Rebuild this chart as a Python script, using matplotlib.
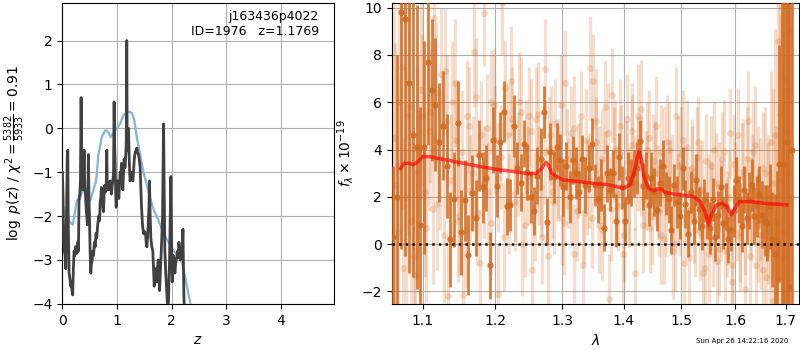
import numpy as np
import matplotlib
matplotlib.use("Agg")
import matplotlib.pyplot as plt
from matplotlib.ticker import NullLocator

# ---------------- left panel data: log p(z) ----------------
pz_z = [0.000, 0.012, 0.025, 0.037, 0.050, 0.061, 0.075, 0.090, 0.098, 0.108,
        0.122, 0.135, 0.153, 0.165, 0.175, 0.189, 0.200, 0.214, 0.225, 0.240,
        0.250, 0.265, 0.280, 0.293, 0.305, 0.318, 0.330, 0.342, 0.352, 0.360,
        0.372, 0.385, 0.397, 0.410, 0.421, 0.438, 0.458, 0.470, 0.476, 0.486,
        0.495, 0.505, 0.519, 0.530, 0.545, 0.556, 0.570, 0.586, 0.600, 0.615,
        0.629, 0.645, 0.665, 0.680, 0.690, 0.702, 0.712, 0.720, 0.735, 0.751,
        0.763, 0.775, 0.788, 0.800, 0.812, 0.820, 0.830, 0.845, 0.860, 0.873,
        0.885, 0.897, 0.910, 0.922, 0.935, 0.946, 0.955, 0.965, 0.975, 0.983,
        0.995, 1.007, 1.020, 1.032, 1.045, 1.056, 1.068, 1.081, 1.095, 1.105,
        1.118, 1.129, 1.145, 1.160, 1.168, 1.177, 1.185, 1.192, 1.200, 1.209,
        1.220, 1.230, 1.239, 1.250, 1.258, 1.270, 1.288, 1.300, 1.315, 1.331,
        1.345, 1.361, 1.375, 1.392, 1.405, 1.422, 1.435, 1.447, 1.465, 1.484,
        1.500, 1.520, 1.532, 1.545, 1.557, 1.569, 1.583, 1.593, 1.605, 1.618,
        1.635, 1.654, 1.667, 1.679, 1.690, 1.703, 1.715, 1.728, 1.740, 1.752,
        1.765, 1.777, 1.790, 1.801, 1.815, 1.832, 1.850, 1.862, 1.874, 1.890,
        1.911, 1.925, 1.935, 1.948, 1.960, 1.972, 1.984, 1.996, 2.009, 2.020,
        2.033, 2.045, 2.057, 2.070, 2.082, 2.094, 2.106, 2.118, 2.131, 2.143,
        2.155, 2.167, 2.179, 2.192, 2.204, 2.213, 2.222, 2.241, 2.300, 2.600,
        3.000, 3.500, 4.000, 4.500, 4.960]
pz_logp = [-1.0, -1.6, -2.6, -2.8, -2.9, -3.2, -2.0, -0.6, -0.5, -2.2,
           -3.3, -3.4, -3.6, -3.5, -3.7, -3.8, -3.2, -2.8, -2.9, -2.7,
           -2.75, -2.85, -2.6, -2.8, -1.6, -1.5, -1.2, 0.7, -0.9, -0.6,
           -1.4, -1.2, -0.5, -1.4, -1.5, -1.9, -2.2, -1.2, -0.6, -1.6,
           -2.0, -2.7, -3.3, -3.1, -3.0, -2.8, -2.9, -2.6, -2.7, -2.4,
           -2.5, -2.2, -2.0, -2.1, -1.7, -1.6, -1.35, -1.5, -1.7, -1.9,
           -1.5, -1.3, -1.45, -1.4, -0.5, -1.3, -1.4, -1.25, -1.4, -1.2,
           -1.35, -1.5, -1.3, -1.2, -1.0, 0.6, -0.4, -0.8, -1.5, -1.8,
           -1.6, -1.2, -1.4, -1.6, -1.3, -1.0, -1.1, -0.8, -1.2, -1.4,
           -1.0, -0.7, -0.9, -0.6, -0.3, 2.0, -0.5, -0.3, -0.1, 0.0,
           -0.6, -1.0, -1.2, -1.1, -1.0, -1.1, -1.2, -1.0, -0.7, -0.55,
           -0.5, -0.45, -0.55, -0.6, -0.7, -0.9, -1.4, -1.8, -2.2, -2.4,
           -2.35, -2.4, -2.6, -2.7, -2.5, -2.2, -1.8, -1.2, -2.0, -2.5,
           -2.7, -2.8, -3.2, -3.6, -3.4, -3.2, -3.35, -3.5, -3.2, -3.0,
           -3.3, -3.7, -3.3, -3.0, -2.6, -2.0, 0.1, -1.5, -2.8, -3.3,
           -3.8, -4.1, -4.3, -3.5, -3.0, -2.0, -1.1, -2.5, -3.5, -3.2,
           -2.9, -3.1, -3.3, -3.1, -3.0, -2.9, -2.8, -2.95, -2.6, -2.8,
           -3.0, -2.8, -2.7, -2.9, -2.3, -3.0, -3.8, -4.6, -6.0, -9.0,
           -12.0, -16.0, -20.0, -24.0, -28.0]

prior_z = [0.0, 0.049, 0.110, 0.189, 0.232, 0.263, 0.324, 0.372, 0.421, 0.458, 0.507,
           0.568, 0.617, 0.659, 0.720, 0.781, 0.812, 0.842, 0.885, 0.934, 0.995,
           1.056, 1.117, 1.209, 1.270, 1.313, 1.361, 1.422, 1.484, 1.545, 1.606,
           1.667, 1.758, 1.850, 1.941, 2.033, 2.125, 2.186, 2.247, 2.308, 2.357,
           2.45, 2.6, 3.0, 4.0, 4.96]
prior_logp = [-1.7, -2.0, -2.1, -2.2, -1.9, -1.65, -1.6, -1.4, -1.35, -1.5, -1.65,
              -1.4, -1.2, -0.6, -0.2, -0.05, -0.05, -0.1, -0.2, -0.1, 0.0,
              0.1, 0.3, 0.38, 0.35, 0.2, -0.2, -0.6, -1.0, -1.3, -1.6,
              -1.85, -2.1, -2.4, -2.6, -2.8, -2.9, -3.05, -3.4, -3.8, -4.1,
              -5.0, -7.0, -12.0, -25.0, -40.0]

# ---------------- right panel data: spectrum ----------------
dark_wave_start, dark_wave_end, n_dark = 1.062, 1.712, 131
light_wave_start, light_wave_end, n_light = 1.0645, 1.7095, 130
light2_wave_start, light2_wave_end, n_light2 = 1.0633, 1.7083, 130

dark_flux = [0.3, 2.0, 9.8, 9.5, 6.8, 4.6, 4.1, 0.8, 4.1, 7.7,
             6.5, 5.9, 4.3, 5.0, 3.3, 0.2, 1.9, 5.1, 0.5, 1.85,
             -0.45, 2.15, 1.1, 3.75, 2.4, 2.8, -0.9, 4.4, 2.45, 4.3,
             5.6, 1.6, 1.65, 5.0, 3.2, 2.6, 4.25, 3.05, 2.0, 1.4,
             2.9, 3.6, 5.6, 0.95, 3.9, 2.85, 4.1, 3.55, 2.4, 3.3,
             2.0, 3.55, 3.0, 2.2, 3.6, 2.5, 3.2, 4.25, 2.5, 1.9,
             2.5, 0.7, 3.0, 2.3, 3.0, 1.0, 3.7, 2.4, 1.0, 2.8,
             2.6, 3.0, 3.2, 4.35, 2.45, 2.9, 1.65, 2.8, 2.2, 1.45,
             2.6, 3.3, 2.15, 1.9, 0.6, 2.5, 1.8, 1.2, 3.2, 1.7,
             0.45, 2.2, 1.0, 2.7, 1.5, 0.75, 1.85, 1.2, 0.7, 1.9,
             0.3, 1.25, 2.4, 0.9, 1.6, 0.2, 0.6, 1.4, 2.7, 1.9,
             0.75, 2.3, 1.1, 1.85, 2.5, 1.2, 1.6, 2.1, 1.25, 1.0,
             0.9, 1.6, 0.2, -0.4, 0.1, 3.4, 3.4, 3.4, 4.3, -1.8,
             4.0]
dark_err = [3.0, 6.0, 10.0, 10.0, 8.0, 6.0, 6.0, 5.0,
            4.5, 3.5, 3.0, 2.8, 2.5, 2.3, 2.2,
            2.0, 2.0, 1.8, 1.8, 1.7, 1.7, 1.6, 1.6, 1.5, 1.5, 1.4, 1.4, 1.4, 1.3, 1.3, 1.3,
            1.2, 1.1, 1.3, 1.1, 1.2, 1.0, 1.2, 1.1, 1.0, 1.2, 1.3, 1.1, 1.0, 1.2, 1.1, 1.0, 1.1, 1.2, 1.0, 1.1,
            1.0, 1.1, 0.9, 1.0, 1.2, 1.0, 1.1, 0.9, 1.0, 1.1, 1.0, 1.2, 0.9, 1.0, 1.1, 1.0, 0.9, 1.0, 1.1, 1.0,
            1.0, 1.1, 0.9, 1.0, 1.0, 0.9, 1.1, 1.0, 0.9, 1.0, 1.1, 0.9, 1.0, 1.0, 0.9, 1.1, 1.0, 0.9, 1.0, 1.0,
            0.9, 1.0, 1.1, 0.9, 1.0, 0.9, 1.0, 1.1, 0.9, 1.0, 1.0, 0.9, 1.1, 1.0, 1.0, 0.9, 1.1, 1.0, 1.0, 1.1,
            1.0, 1.1, 1.2, 1.1, 1.2, 1.3, 1.2, 1.4, 1.5, 1.6, 1.8, 2.0,
            2.5, 3.0, 5.0, 7.0, 9.0, 10.0, 12.0, 12.0]

light_flux = [2.5, 6.0, -1.0, 5.4, 1.0, -1.3, 4.0, 5.4, 0.7, 5.6,
              9.55, 1.7, 7.2, 7.3, -2.2, 6.0, 4.4, 1.2, -2.15, 5.4,
              2.3, 8.1, 1.3, 4.6, 9.75, 2.2, 6.0, 4.4, -2.1, 10.2,
              6.6, 1.7, 5.3, 2.1, 6.0, 0.0, 4.1, 5.4, -1.1, 5.3,
              2.9, 0.3, 7.4, 4.0, 2.2, 5.1, 3.2, 1.1, 6.8, 2.6,
              4.7, -0.4, 3.1, 5.4, 1.3, 2.4, 7.45, 6.9, 4.3, 0.8,
              3.6, 5.8, -2.3, 6.3, 4.0, 1.6, 3.9, 0.4, 5.3, 2.0,
              4.8, -1.2, 3.4, 5.7, 1.9, 4.0, 0.7, 3.5, 5.0, 1.4,
              3.9, 0.2, 4.3, 2.5, -0.3, 5.4, 1.9, 3.8, -0.8, 4.1,
              1.4, 3.2, 0.6, 4.3, 2.2, -1.2, 3.5, -0.4, 1.6, 4.0,
              -0.7, 2.4, 3.6, -0.3, 1.1, 4.7, -1.6, 2.2, 4.6, 0.5,
              3.1, -1.9, 5.2, 1.5, 3.9, -0.9, 2.8, 0.4, 3.2, -1.4,
              2.0, 4.3, -2.4, 1.0, 8.6, 2.7, -0.6, 4.8, 6.5, 2.0]
light_err = [6.0, 6.0, 5.5, 5.0, 5.0, 4.5, 4.0, 3.5,
             3.2, 3.0, 3.0, 2.8, 2.8, 2.7, 2.6, 2.6, 2.5, 2.5, 2.4, 2.4, 2.3,
             2.3, 2.2, 2.3, 2.2, 2.1, 2.2, 2.3, 2.1, 2.2, 2.0, 2.1, 2.2, 2.0, 2.1, 2.2, 2.0, 2.1, 2.0, 2.2, 2.1,
             2.0, 2.1, 2.2, 2.0, 1.9, 2.1, 2.0, 2.2, 1.9, 2.0, 2.1, 2.0, 1.9, 2.1, 2.0, 2.2, 2.0, 1.9, 2.0, 2.1,
             2.0, 1.9, 2.0, 2.1, 1.9, 2.0, 2.0, 1.9, 2.1, 2.0, 1.9, 2.0, 2.1, 1.9, 2.0, 1.9, 2.0, 2.1, 1.9, 2.0,
             1.9, 2.0, 1.9, 2.0, 2.1, 1.9, 2.0, 1.9, 2.0, 1.9, 2.1, 2.0, 1.9, 2.0, 1.9, 2.0, 2.1, 1.9, 2.0, 2.0,
             1.9, 2.0, 2.1, 2.0, 1.9, 2.0, 2.1, 2.0, 2.1, 2.2, 2.0, 2.1, 2.2, 2.1, 2.3, 2.2, 2.3, 2.4, 2.5, 2.6,
             3.0, 3.5, 4.0, 5.0, 7.0, 8.0, 9.0, 10.0, 10.0]

light2_flux = [4.5, 0.5, 7.5, 2.0, 5.8, -0.5, 3.0, 6.5, 2.2, 4.8,
               1.5, 6.4, 3.6, 0.4, 5.2, 2.7, 6.8, 1.0, 3.9, 0.6,
               5.0, 3.0, 6.2, -0.8, 2.6, 4.9, 0.9, 5.9, 2.8, 3.7,
               0.3, 4.6, 6.9, 1.8, 3.4, 5.6, 0.8, 2.9, 4.8, 1.6,
               5.5, 2.4, 3.9, -0.5, 4.6, 1.8, 3.0, 5.9, 0.9, 3.6,
               2.0, 4.9, 1.4, 3.3, -0.9, 4.4, 2.7, 1.1, 5.2, 3.0,
               0.6, 2.8, 4.7, 1.5, 3.8, 2.1, 5.0, -0.4, 3.1, 1.9,
               4.2, 2.6, 5.4, 3.3, 0.8, 2.7, 4.5, 1.2, 3.0, 2.2,
               0.4, 3.8, 1.6, 4.0, 2.4, 0.0, 3.3, 1.5, 4.4, 2.1,
               -0.6, 2.9, 1.2, 3.7, 0.5, 2.3, -1.0, 1.8, 3.3, 0.2,
               2.6, -0.2, 1.4, 3.9, 0.7, 2.0, -0.9, 3.4, 1.5, 0.3,
               2.9, 1.0, 3.6, -0.5, 2.3, 4.2, 0.8, 1.9, -1.1, 3.0,
               1.3, -0.2, 2.6, 4.6, -1.5, 5.5, 0.5, 7.0, 3.0, 9.0]
light2_err = [7.0, 6.5, 6.0, 5.5, 5.0, 4.8, 4.5, 4.0,
              3.6, 3.4, 3.2, 3.0, 3.0, 2.9, 2.8, 2.8, 2.7, 2.6, 2.6, 2.5, 2.5,
              2.4, 2.5, 2.3, 2.4, 2.3, 2.2, 2.4, 2.3, 2.2, 2.3, 2.2, 2.3, 2.1, 2.2, 2.3, 2.2, 2.1, 2.2, 2.3, 2.2,
              2.1, 2.2, 2.3, 2.1, 2.2, 2.0, 2.1, 2.2, 2.1, 2.0, 2.2, 2.1, 2.0, 2.1, 2.2, 2.0, 2.1, 2.2, 2.0, 2.1,
              2.0, 2.1, 2.2, 2.0, 2.1, 2.0, 2.2, 2.1, 2.0, 2.1, 2.0, 2.2, 2.1, 2.0, 2.1, 2.0, 2.1, 2.2, 2.0, 2.1,
              2.0, 2.1, 2.0, 2.2, 2.0, 2.1, 2.0, 2.1, 2.0, 2.2, 2.1, 2.0, 2.1, 2.0, 2.1, 2.2, 2.0, 2.1, 2.0, 2.1,
              2.0, 2.1, 2.2, 2.1, 2.0, 2.2, 2.1, 2.2, 2.3, 2.2, 2.3, 2.2, 2.4, 2.3, 2.5, 2.4, 2.6, 2.7, 2.8, 3.0,
              3.4, 4.0, 4.5, 5.5, 7.0, 8.5, 9.5, 10.0, 11.0]

model_wave = [1.071, 1.076, 1.082, 1.088, 1.094, 1.100, 1.110, 1.119, 1.132, 1.155,
              1.178, 1.202, 1.226, 1.251, 1.261, 1.269, 1.275, 1.279, 1.284, 1.292,
              1.302, 1.328, 1.355, 1.371, 1.388, 1.399, 1.410, 1.417, 1.423, 1.426,
              1.430, 1.434, 1.442, 1.451, 1.459, 1.465, 1.471, 1.498, 1.522, 1.534,
              1.543, 1.5495, 1.556, 1.565, 1.575, 1.584, 1.592, 1.600, 1.608, 1.629,
              1.655, 1.702]
model_flux = [3.2, 3.42, 3.42, 3.35, 3.49, 3.7, 3.7, 3.63, 3.56, 3.42,
              3.28, 3.16, 3.07, 2.97, 3.0, 3.2, 3.46, 3.35, 3.0, 2.86,
              2.71, 2.64, 2.55, 2.53, 2.43, 2.36, 2.5, 3.0, 3.7, 3.91,
              3.56, 2.86, 2.36, 2.26, 2.36, 2.32, 2.18, 2.08, 2.01, 1.8,
              1.38, 0.82, 1.31, 1.66, 1.73, 1.59, 1.24, 1.52, 1.8, 1.8,
              1.73, 1.66]

target_name = "j163436p4022"
target_id = 1976
target_z = 1.1769
chi2_num, chi2_den, chi2_red = 5382, 5933, 0.91
timestamp = "Sun Apr 26 14:22:16 2020"

z_ticks = [0, 1, 2, 3, 4]
wave_ticks = [1.1, 1.2, 1.3, 1.4, 1.5, 1.6, 1.7]

# ---------------- figure ----------------
fig = plt.figure(figsize=(8, 3.5), dpi=100)
ax1 = fig.add_axes([0.078, 0.132, 0.339, 0.860])
ax2 = fig.add_axes([0.4896, 0.132, 0.5092, 0.860])

# left panel
ax1.plot(prior_z, prior_logp, color='#84b5da', lw=1.6, zorder=3)
ax1.plot(pz_z, pz_logp, color='0.25', lw=2.0, zorder=4)
ax1.set_xlim(0, 4.96)
ax1.set_ylim(-4, 2.86)
ax1.set_xticks(z_ticks)
ax1.set_yticks([-4, -3, -2, -1, 0, 1, 2])
ax1.grid(True)
ax1.set_xlabel(r'$z$')
ax1.set_ylabel(r'$\log\ p(z)$' + ' / ' +
               r'$\chi^2=\frac{%d}{%d}=%.2f$' % (chi2_num, chi2_den, chi2_red))
ax1.text(0.945, 0.975, '%s\nID=%d   z=%.4f' % (target_name, target_id, target_z),
         transform=ax1.transAxes, ha='right', va='top', fontsize=9)

# right panel
dark_wave = np.linspace(dark_wave_start, dark_wave_end, n_dark)
light_wave = np.linspace(light_wave_start, light_wave_end, n_light)
light2_wave = np.linspace(light2_wave_start, light2_wave_end, n_light2)
col = '#d2691e'
for lw_, lf_, le_ in [(light_wave, light_flux, light_err),
                      (light2_wave, light2_flux, light2_err)]:
    ax2.errorbar(lw_, lf_, yerr=le_, fmt='o', color=col,
                 alpha=0.22, ms=5, elinewidth=2.4, capsize=0, mew=0, zorder=2)
ax2.errorbar(dark_wave, dark_flux, yerr=dark_err, fmt='o', color=col,
             alpha=0.85, ms=4.5, elinewidth=2.0, capsize=0, mew=0, zorder=3)
ax2.plot(model_wave, model_flux, color='red', alpha=0.65, lw=2.5, zorder=5)
ax2.axhline(0, color='k', ls=':', lw=1.8, alpha=0.9, zorder=6)

ax2.set_xscale('log')
ax2.set_xlim(1.06, 1.727)
ax2.set_ylim(-2.52, 10.2)
ax2.set_xticks(wave_ticks)
ax2.set_xticklabels(['%.1f' % w for w in wave_ticks])
ax2.xaxis.set_minor_locator(NullLocator())
ax2.set_yticks([-2, 0, 2, 4, 6, 8, 10])
ax2.grid(True)
ax2.set_xlabel(r'$\lambda$')
ax2.set_ylabel(r'$f_\lambda\times10^{-19}$')

fig.text(0.985, 0.027, timestamp, ha='right', va='center', fontsize=5)

fig.savefig('out.png', dpi=100)
